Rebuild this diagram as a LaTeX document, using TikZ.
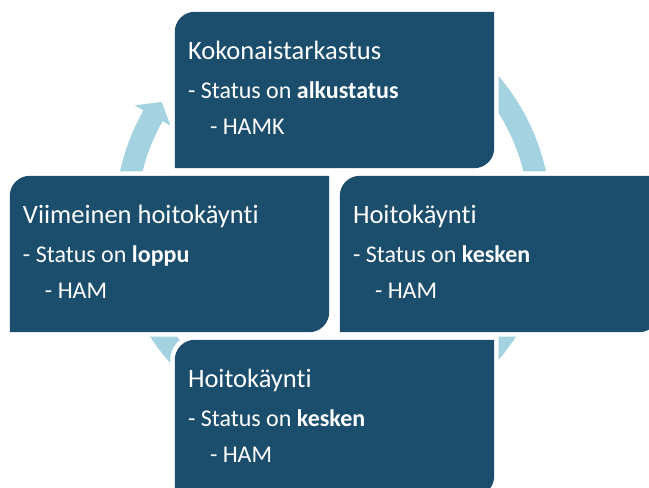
\documentclass[tikz,border=0pt]{standalone}
\usepackage{fontspec}
\setmainfont{Carlito}[Ligatures=NoCommon]
\usetikzlibrary{calc}
\definecolor{boxblue}{HTML}{1B4E6C}
\definecolor{ringblue}{HTML}{A3D2E1}
\tikzset{
  boxframe/.style = {rectangle, inner sep=0pt, minimum width=319pt, minimum height=156pt},
  boxfill/.style  = {fill=boxblue, preaction={draw=white, line width=9pt}},
  ring/.style     = {fill=ringblue},
  title/.style    = {anchor=base west, inner sep=0pt, text=white,
                     font=\fontsize{26.5}{32}\selectfont},
  item/.style     = {anchor=base west, inner sep=0pt, text=white,
                     font=\fontsize{24}{29}\selectfont},
}
\newcommand{\cyclebox}[5]{%
  \node[boxframe] (#1) at (#2) {};
  \path[boxfill] (#1.south west) -- ([yshift=-20pt]#1.north west)
    arc[start angle=180,end angle=90,radius=20pt] -- (#1.north east)
    -- ([yshift=20pt]#1.south east)
    arc[start angle=0,end angle=-90,radius=20pt] -- cycle;
  \node[title] (#1-title) at ($(#1.north west)+(13,-48)$) {#3};
  \node[item] (#1-status) at ($(#1.north west)+(13,-87)$) {- Status on \textbf{#4}};
  \node[item] (#1-org) at ($(#1.north west)+(35,-123)$) {- #5};
}

\begin{document}
\begin{tikzpicture}[x=1pt,y=1pt]
\useasboundingbox (0,0) rectangle (649,488);
\clip (0,0) rectangle (649,488);
% circular arrow behind the boxes
\fill[ring, shift={(333,270)}] (65:218pt)
  arc[start angle=65,end angle=-209.6,radius=218pt]
  -- (-209.6:228pt) -- (-214.1:207pt) -- (-209.6:187pt) -- (-209.6:196pt)
  arc[start angle=-209.6,end angle=65,radius=196pt] -- cycle;
% boxes
\cyclebox{top}{334.5,398}{Kokonaistarkastus}{alkustatus}{HAMK}
\cyclebox{left}{169.5,234}{Viimeinen hoitokäynti}{loppu}{HAM}
\cyclebox{right}{499.5,234}{Hoitokäynti}{kesken}{HAM}
\cyclebox{bottom}{334.5,70}{Hoitokäynti}{kesken}{HAM}
\end{tikzpicture}
\end{document}
